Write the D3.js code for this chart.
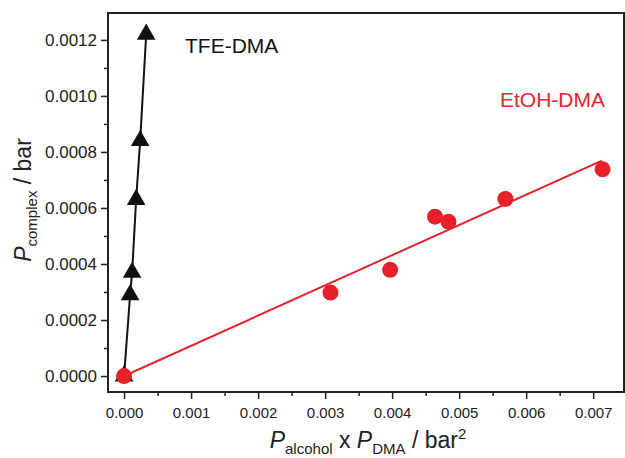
<!DOCTYPE html>
<html>
<head>
<meta charset="utf-8">
<script src="https://cdn.jsdelivr.net/npm/d3@7"></script>
<style>
body { margin: 0; background: #fff; }
text { font-family: "Liberation Sans", Arial, sans-serif; }
</style>
</head>
<body>
<div id="chart"></div>
<script>
// data
var tfeX = [0, 0.00009, 0.00012, 0.00018, 0.00024, 0.00033];
var tfeY = [0, 0.00029, 0.00037, 0.00063, 0.00084, 0.00122];
var etohX = [0, 0.00308, 0.00397, 0.00464, 0.00484, 0.00569, 0.00714];
var etohY = [0, 0.000298, 0.000379, 0.000569, 0.000551, 0.000632, 0.000738];
// fitted line for EtOH-DMA
var fitX = [0, 0.00713];
var fitY = [0, 0.000769];
var xTicks = [0, 0.001, 0.002, 0.003, 0.004, 0.005, 0.006, 0.007];
var xMinor = [0.0005, 0.0015, 0.0025, 0.0035, 0.0045, 0.0055, 0.0065];
var yTicks = [0, 0.0002, 0.0004, 0.0006, 0.0008, 0.0010, 0.0012];
var yMinor = [0.0001, 0.0003, 0.0005, 0.0007, 0.0009, 0.0011];

var W = 625, H = 458;
var margin = {top: 13, right: 1, bottom: 66, left: 108};

var svg = d3.select("#chart").append("svg")
  .attr("width", W).attr("height", H);

var x = d3.scaleLinear().domain([-0.00024, 0.00746]).range([margin.left, W - margin.right]);
var y = d3.scaleLinear().domain([-0.000057, 0.001296]).range([H - margin.bottom, margin.top]);

var axisColor = "#222";

// frame
svg.append("rect")
  .attr("x", margin.left).attr("y", margin.top)
  .attr("width", W - margin.right - margin.left)
  .attr("height", H - margin.bottom - margin.top)
  .attr("fill", "none").attr("stroke", axisColor).attr("stroke-width", 2);

// x axis
svg.append("g")
  .attr("transform", "translate(0," + (H - margin.bottom) + ")")
  .call(d3.axisBottom(x).tickValues(xTicks).tickSize(7).tickPadding(8).tickFormat(d3.format(".3f")))
  .call(g => g.select(".domain").remove())
  .call(g => g.selectAll("line").attr("stroke", axisColor).attr("stroke-width", 1.5))
  .call(g => g.selectAll("text").attr("fill", axisColor).style("font-size", "15px"));
svg.append("g")
  .attr("transform", "translate(0," + (H - margin.bottom) + ")")
  .call(d3.axisBottom(x).tickValues(xMinor).tickSize(4).tickFormat(""))
  .call(g => g.select(".domain").remove())
  .call(g => g.selectAll("line").attr("stroke", axisColor).attr("stroke-width", 1.5));

// y axis
svg.append("g")
  .attr("transform", "translate(" + margin.left + ",0)")
  .call(d3.axisLeft(y).tickValues(yTicks).tickSize(7).tickPadding(4).tickFormat(d3.format(".4f")))
  .call(g => g.select(".domain").remove())
  .call(g => g.selectAll("line").attr("stroke", axisColor).attr("stroke-width", 1.5))
  .call(g => g.selectAll("text").attr("fill", axisColor).style("font-size", "17px"));
svg.append("g")
  .attr("transform", "translate(" + margin.left + ",0)")
  .call(d3.axisLeft(y).tickValues(yMinor).tickSize(4).tickFormat(""))
  .call(g => g.select(".domain").remove())
  .call(g => g.selectAll("line").attr("stroke", axisColor).attr("stroke-width", 1.5));

// TFE-DMA line + triangles
var tfe = tfeX.map(function(d, i) { return {x: d, y: tfeY[i]}; });
var etoh = etohX.map(function(d, i) { return {x: d, y: etohY[i]}; });
var fit = fitX.map(function(d, i) { return {x: d, y: fitY[i]}; });

var line = d3.line().x(d => x(d.x)).y(d => y(d.y));

svg.append("path").datum(tfe)
  .attr("d", line).attr("fill", "none")
  .attr("stroke", "#111").attr("stroke-width", 2);

svg.selectAll(".tri").data(tfe).enter().append("path")
  .attr("class", "tri")
  .attr("transform", d => "translate(" + x(d.x) + "," + y(d.y) + ")")
  .attr("d", d3.symbol().type(d3.symbolTriangle).size(150))
  .attr("fill", "#111");

// EtOH-DMA fit + circles
svg.append("path").datum(fit)
  .attr("d", line).attr("fill", "none")
  .attr("stroke", "#e3262d").attr("stroke-width", 2);

svg.selectAll(".dot").data(etoh).enter().append("circle")
  .attr("class", "dot")
  .attr("cx", d => x(d.x)).attr("cy", d => y(d.y))
  .attr("r", 8)
  .attr("fill", "#e8202a");

// series labels
svg.append("text").attr("x", 185).attr("y", 53)
  .style("font-size", "21px").attr("fill", "#111").text("TFE-DMA");
svg.append("text").attr("x", 500).attr("y", 107)
  .style("font-size", "21px").attr("fill", "#e3262d").text("EtOH-DMA");

// axis titles
var xt = svg.append("text").attr("x", 368).attr("y", 448)
  .attr("text-anchor", "middle").attr("fill", axisColor).style("font-size", "23px");
xt.append("tspan").style("font-style", "italic").text("P");
xt.append("tspan").attr("dy", 6).style("font-size", "15px").text("alcohol");
xt.append("tspan").attr("dy", -6).text(" x ");
xt.append("tspan").style("font-style", "italic").text("P");
xt.append("tspan").attr("dy", 6).style("font-size", "15px").text("DMA");
xt.append("tspan").attr("dy", -6).text(" / bar");
xt.append("tspan").attr("dy", -9).style("font-size", "15px").text("2");

var yt = svg.append("text")
  .attr("transform", "translate(31,200) rotate(-90)")
  .attr("text-anchor", "middle").attr("fill", axisColor).style("font-size", "23px");
yt.append("tspan").style("font-style", "italic").text("P");
yt.append("tspan").attr("dy", 6).style("font-size", "15px").text("complex");
yt.append("tspan").attr("dy", -6).text(" / bar");
</script>
</body>
</html>
